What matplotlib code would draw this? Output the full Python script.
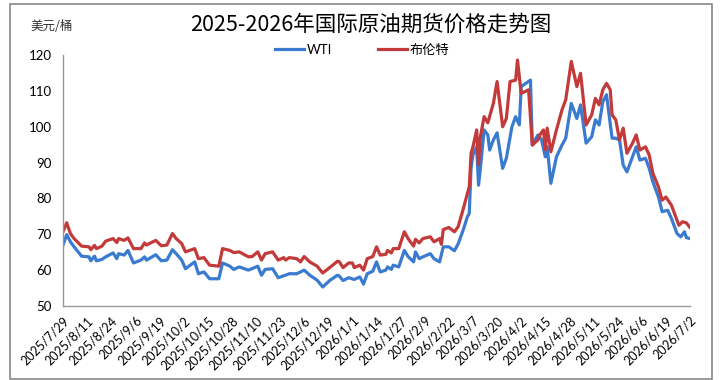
import matplotlib
matplotlib.use("Agg")
import matplotlib.pyplot as plt
from matplotlib.patches import Rectangle
import pandas as pd

# 日期偏移（以 2025/7/29 为第 0 天）和价格
start = "2025-07-29"

brent_days = [0, 2, 4, 6, 10, 14, 15, 17, 18, 21, 23, 27, 29, 30, 33, 35, 38, 42, 44, 45,
              50, 53, 56, 59, 61, 64, 66, 71, 73, 76, 79, 84, 86, 90, 92, 95, 100, 102, 105, 107,
              109, 113, 116, 119, 120, 122, 126, 128, 130, 133, 137, 140, 144, 148, 149, 151, 154, 156, 157, 160,
              162, 164, 167, 169, 171, 174, 175, 177, 178, 181, 184, 186, 189, 190, 192, 194, 198, 200, 203, 204,
              205, 208, 211, 213, 216, 218, 219, 220, 221, 223, 224, 225, 227, 229, 232, 234, 237, 239, 241, 244,
              245, 247, 251, 253, 256, 257, 259, 260, 261, 263, 266, 269, 271, 274, 277, 279, 282, 285, 287, 289,
              291, 293, 295, 296, 298, 300, 302, 304, 307, 309, 311, 314, 316, 318, 321, 323, 325, 328, 330, 332,
              334, 336, 338]
brent = [70.7, 73.2, 70.2, 68.8, 66.7, 66.5, 65.7, 66.9, 66.0, 66.7, 68.1, 68.8, 67.7, 68.8, 68.3, 69.0, 66.0, 66.0, 67.6, 67.0,
         68.3, 66.8, 67.0, 70.2, 68.8, 67.4, 65.1, 66.0, 63.2, 63.5, 61.4, 61.1, 66.0, 65.5, 64.9, 65.1, 63.7, 63.8, 65.1, 62.8,
         64.6, 65.1, 62.8, 63.5, 62.8, 63.5, 63.2, 62.3, 63.8, 62.3, 61.1, 59.2, 60.8, 62.5, 62.3, 60.7, 62.0, 62.0, 60.7, 61.4,
         60.0, 63.2, 63.8, 66.5, 64.2, 64.4, 65.5, 64.8, 66.0, 66.0, 70.7, 68.8, 66.7, 68.6, 67.6, 68.8, 69.3, 67.9, 68.8, 67.2,
         71.3, 71.9, 70.7, 72.1, 77.5, 81.4, 83.2, 92.6, 94.4, 99.1, 89.5, 97.2, 102.8, 101.1, 106.5, 112.6, 100.0, 102.3, 112.6, 113.0,
         118.6, 109.3, 110.3, 94.9, 96.3, 97.7, 99.1, 93.5, 99.6, 93.0, 99.1, 104.7, 107.5, 118.2, 111.2, 114.9, 100.5, 103.3, 107.9, 106.1,
         110.3, 112.1, 110.3, 103.3, 101.9, 96.3, 99.6, 92.6, 95.4, 97.7, 93.5, 94.4, 92.1, 87.0, 83.2, 79.5, 80.4, 78.1, 75.3, 72.5,
         73.5, 73.2, 71.9]

wti_days = [0, 2, 4, 6, 10, 14, 15, 17, 18, 21, 23, 27, 29, 30, 33, 35, 38, 42, 44, 45,
            50, 53, 56, 59, 61, 64, 66, 71, 73, 76, 79, 84, 86, 90, 92, 95, 100, 105, 107, 109,
            113, 116, 120, 122, 126, 130, 133, 137, 140, 144, 148, 149, 151, 154, 157, 160, 162, 164, 167, 169,
            171, 174, 175, 177, 178, 181, 184, 186, 189, 190, 192, 194, 198, 200, 203, 205, 208, 211, 213, 216,
            218, 219, 220, 221, 223, 224, 225, 227, 229, 230, 232, 234, 237, 239, 242, 244, 246, 247, 252, 253,
            256, 258, 260, 261, 263, 266, 269, 271, 274, 277, 279, 282, 285, 287, 289, 291, 293, 296, 298, 300,
            302, 304, 307, 309, 311, 314, 316, 318, 321, 323, 326, 328, 331, 333, 335, 336, 338]
wti = [67.0, 69.9, 67.9, 66.5, 63.9, 63.7, 62.6, 63.9, 62.6, 63.0, 63.7, 64.8, 63.2, 64.6, 64.2, 65.5, 62.0, 62.8, 63.7, 62.8,
       64.3, 62.6, 62.8, 65.7, 64.6, 62.8, 60.4, 62.3, 59.0, 59.5, 57.6, 57.6, 62.0, 61.1, 60.2, 60.9, 60.0, 61.1, 58.6, 60.2,
       60.4, 57.9, 58.6, 59.0, 59.0, 60.0, 58.6, 57.2, 55.3, 57.2, 58.6, 58.3, 57.1, 57.9, 57.4, 58.1, 56.1, 59.0, 59.7, 62.3,
       59.5, 60.0, 60.9, 60.2, 61.4, 60.9, 65.5, 63.8, 62.3, 65.1, 63.2, 63.7, 64.6, 63.2, 62.3, 66.5, 66.5, 65.4, 67.3, 71.6,
       74.9, 75.8, 88.8, 92.1, 94.4, 83.7, 88.4, 99.1, 97.7, 93.5, 96.3, 98.3, 88.4, 91.2, 100.0, 102.8, 100.5, 111.2, 113.0, 94.9,
       97.7, 96.3, 91.6, 94.4, 84.2, 91.6, 94.9, 96.8, 106.5, 102.3, 106.1, 95.4, 97.2, 101.9, 100.5, 107.0, 108.9, 96.8, 96.8, 96.3,
       89.3, 87.4, 91.6, 94.4, 90.7, 91.2, 88.4, 84.6, 80.4, 76.3, 76.7, 74.4, 70.2, 69.3, 70.7, 69.1, 68.8]

tick_days = list(range(0, 339, 13))
y_ticks = [50, 60, 70, 80, 90, 100, 110, 120]

cjk = ["Noto Sans CJK SC", "DejaVu Sans"]
latin = ["Lato", "Noto Sans CJK SC"]

fig = plt.figure(figsize=(7.2, 3.8), dpi=100)
ax = fig.add_axes([63 / 720, 1 - 306 / 380, 627 / 720, 251 / 380])

ax.plot(wti_days, wti, color="#3a7bd0", lw=2.3, label="WTI", solid_joinstyle="round")
ax.plot(brent_days, brent, color="#c33a3a", lw=2.3, label="布伦特", solid_joinstyle="round")

ax.set_xlim(0, 338)
ax.set_ylim(50, 120)
ax.set_yticks(y_ticks)
ax.set_yticklabels([str(v) for v in y_ticks], family=latin, fontsize=9.5)
dates = pd.to_datetime(start) + pd.to_timedelta(tick_days, unit="D")
ax.set_xticks(tick_days)
ax.set_xticklabels([f"{d.year}/{d.month}/{d.day}" for d in dates], rotation=45,
                   ha="right", rotation_mode="anchor", family=latin, fontsize=9)
ax.tick_params(axis="both", length=0, pad=8)
ax.tick_params(axis="x", pad=6)
for s in ["top", "right"]:
    ax.spines[s].set_visible(False)
for s in ["left", "bottom"]:
    ax.spines[s].set_color("#999999")
    ax.spines[s].set_linewidth(1)

fig.text(0.515, 1 - 25 / 380, "2025-2026年国际原油期货价格走势图", ha="center", va="center",
         family=cjk, fontsize=15.5)
fig.text(30 / 720, 1 - 26 / 380, "美元/桶", ha="left", va="center", family=cjk,
         fontsize=9, color="#333333")
fig.legend(loc="center", bbox_to_anchor=(0.503, 1 - 50 / 380), ncol=2, frameon=False,
           prop={"family": latin, "size": 9.5}, handlelength=2.2, columnspacing=3.5,
           handletextpad=0.2)

fig.patches.append(Rectangle((10 / 720, 1 / 380), 702 / 720, 375 / 380, transform=fig.transFigure,
                             fill=False, edgecolor="#888888", lw=1.2))

fig.savefig("out.png", dpi=100)
